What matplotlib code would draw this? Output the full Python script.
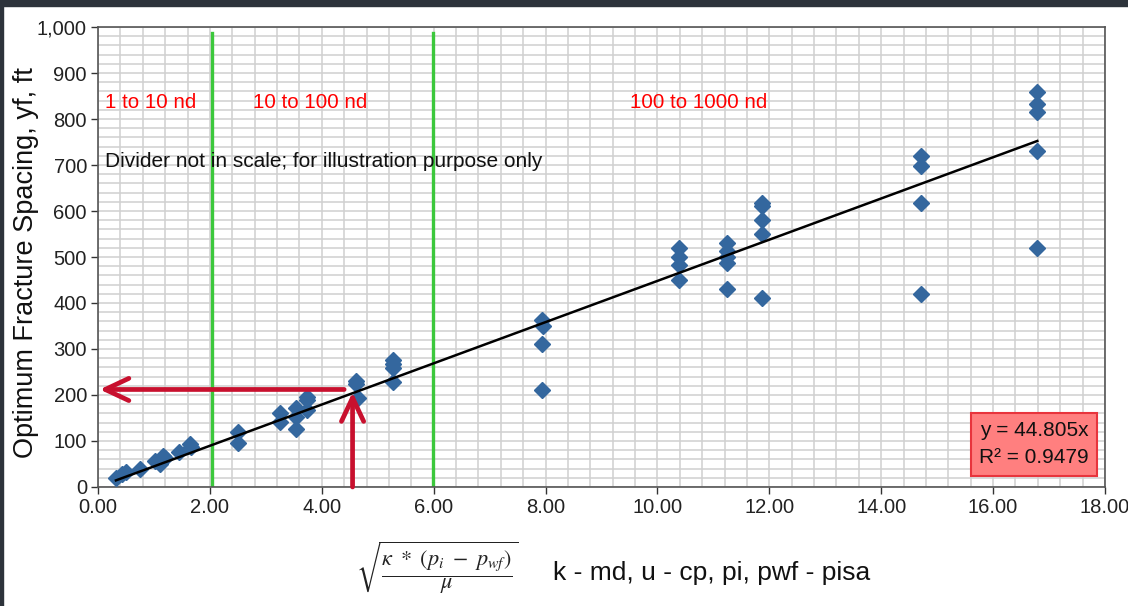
import matplotlib
matplotlib.use('Agg')
import matplotlib.pyplot as plt
from matplotlib.patches import Rectangle
from matplotlib.ticker import MultipleLocator, FuncFormatter

plt.rcParams['font.family'] = ['Liberation Sans', 'DejaVu Sans']
plt.rcParams['mathtext.fontset'] = 'stix'

# measured points (x = sqrt(k*(pi-pwf)/u), y = optimum spacing, ft)
x_pts = [0.32, 0.42, 0.50, 0.75, 1.01, 1.10, 1.17, 1.20, 1.44, 1.64, 1.66,
         2.50, 2.50, 3.25, 3.25, 3.53, 3.53, 3.53, 3.73, 3.73, 3.73,
         4.62, 4.62, 4.64, 5.28, 5.28, 5.28, 5.28,
         7.94, 7.96, 7.94, 7.94,
         10.39, 10.39, 10.39, 10.39,
         11.25, 11.25, 11.25, 11.25, 11.25,
         11.86, 11.86, 11.86, 11.86, 11.86,
         14.71, 14.71, 14.71, 14.71,
         16.79, 16.79, 16.79, 16.79, 16.79]
y_pts = [20, 28, 33, 39, 57, 49, 68, 62, 77, 93, 87,
         120, 96, 160, 142, 172, 153, 127, 196, 189, 167,
         230, 223, 193, 276, 268, 258, 229,
         363, 350, 311, 211,
         520, 501, 483, 450,
         531, 512, 500, 486, 430,
         618, 611, 580, 550, 410,
         720, 698, 618, 420,
         859, 832, 815, 730, 520]

slope = 44.805
r2 = 0.9479
fit_x = [0.32, 16.79]

dividers = [2.03, 5.98]
region_labels = ['1 to 10 nd', '10 to 100 nd', '100 to 1000 nd']
region_x = [0.12, 2.77, 9.51]

fig = plt.figure(figsize=(11.28, 6.06), dpi=100)
ax = fig.add_axes([0.0869, 0.1964, 0.8927, 0.759])

# dark frame strips of the screenshot
fig.patches.append(Rectangle((0, 1 - 6 / 606), 1, 6 / 606, transform=fig.transFigure,
                             color='#2d333b', zorder=0))
fig.patches.append(Rectangle((0, 0), 3 / 1128, 1, transform=fig.transFigure,
                             color='#2d333b', zorder=0))

ax.set_xlim(0, 18)
ax.set_ylim(0, 1000)
ax.xaxis.set_major_locator(MultipleLocator(2))
ax.xaxis.set_minor_locator(MultipleLocator(0.4))
ax.yaxis.set_major_locator(MultipleLocator(100))
ax.yaxis.set_minor_locator(MultipleLocator(20))
ax.xaxis.set_major_formatter(FuncFormatter(lambda v, p: f'{v:.2f}'))
ax.yaxis.set_major_formatter(FuncFormatter(lambda v, p: f'{v:,.0f}'))
ax.grid(True, which='both', color='#d0d0d0', lw=1.1)
ax.set_axisbelow(True)
ax.tick_params(which='major', length=5, width=1, color='#333333', labelsize=14.5,
               labelcolor='#222222', pad=3)
ax.tick_params(which='minor', length=0)
for s in ax.spines.values():
    s.set_color('#555555')
    s.set_linewidth(1.2)

for d in dividers:
    ax.plot([d, d], [0, 987], color='#3cc83c', lw=2.4, zorder=2)

ax.plot(fit_x, [slope * v for v in fit_x], color='black', lw=1.8, zorder=4)
ax.plot(x_pts, y_pts, 'D', color='#34679e', ms=8.5, zorder=3)

arrow_color = '#c8102e'
ax.annotate('', xy=(0.03, 212), xytext=(4.4, 212),
            arrowprops=dict(arrowstyle='->,head_length=0.85,head_width=0.4',
                            mutation_scale=20, color=arrow_color, lw=3.4,
                            shrinkA=0, shrinkB=0), zorder=5)
ax.annotate('', xy=(4.55, 206), xytext=(4.55, 0),
            arrowprops=dict(arrowstyle='->,head_length=0.85,head_width=0.4',
                            mutation_scale=20, color=arrow_color, lw=3.4,
                            shrinkA=0, shrinkB=0), zorder=5)

for lab, xr in zip(region_labels, region_x):
    ax.text(xr, 835, lab, color='red', fontsize=14.8, va='center', ha='left')
ax.text(0.12, 707, 'Divider not in scale; for illustration purpose only',
        color='#111111', fontsize=15, va='center', ha='left')

ax.text(16.73, 93, f'y = {slope:.3f}x\nR\u00b2 = {r2:.4f}', fontsize=15,
        ha='center', va='center', linespacing=1.55, color='#111111', zorder=6,
        bbox=dict(boxstyle='square,pad=0.4', facecolor='#ff7f7f',
                  edgecolor='#e8343c', lw=1.5))

ax.set_ylabel('Optimum Fracture Spacing, yf, ft', fontsize=19.5, color='#111111')
ax.yaxis.set_label_coords(-0.059, 0.488)

fig.text(0.387, 0.062, r'$\sqrt{\dfrac{\kappa\ *\ (p_i\ -\ p_{wf})}{\mu}}$',
         fontsize=16, ha='center', va='center', color='#222222')
fig.text(0.490, 0.055, 'k - md, u - cp, pi, pwf - pisa', fontsize=19,
         ha='left', va='center', color='#111111')

fig.savefig('out.png', dpi=100)
